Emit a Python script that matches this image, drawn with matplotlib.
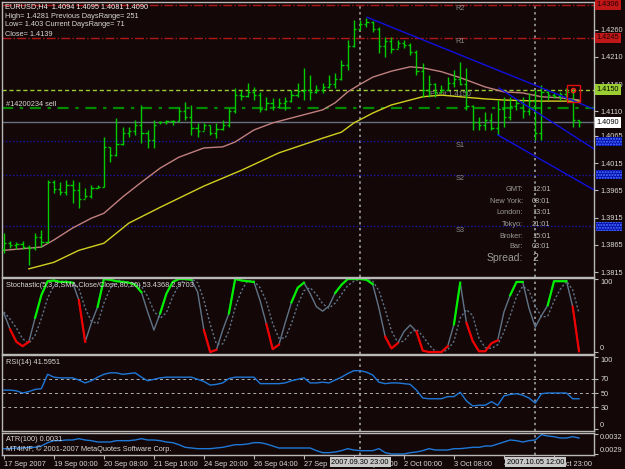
import numpy as np
import matplotlib
matplotlib.use('Agg')
import matplotlib.pyplot as plt
from matplotlib.patches import Rectangle

plt.rcParams['font.family'] = ['Liberation Sans', 'DejaVu Sans']
plt.rcParams['hatch.linewidth'] = 1.0

# ---------------- data (EURUSD H4, one value per bar) ----------------
opens = [1.3858, 1.3868, 1.3864, 1.3866, 1.3862, 1.3860, 1.3880, 1.3870, 1.3980, 1.3968,
         1.3962, 1.3975, 1.3965, 1.3950, 1.3955, 1.3970, 1.3972, 1.4045, 1.4030, 1.4050,
         1.4070, 1.4075, 1.4085, 1.4070, 1.4058, 1.4090, 1.4090, 1.4092, 1.4093, 1.4110,
         1.4100, 1.4080, 1.4075, 1.4085, 1.4070, 1.4078, 1.4085, 1.4110, 1.4140, 1.4138,
         1.4145, 1.4140, 1.4115, 1.4125, 1.4118, 1.4125, 1.4130, 1.4140, 1.4148, 1.4150,
         1.4145, 1.4150, 1.4155, 1.4160, 1.4170, 1.4195, 1.4230, 1.4262, 1.4270, 1.4275,
         1.4262, 1.4230, 1.4240, 1.4225, 1.4236, 1.4232, 1.4220, 1.4185, 1.4150, 1.4160,
         1.4145, 1.4150, 1.4162, 1.4170, 1.4160, 1.4120, 1.4090, 1.4085, 1.4095, 1.4080,
         1.4115, 1.4100, 1.4120, 1.4125, 1.4110, 1.4130, 1.4070, 1.4145, 1.4140, 1.4138,
         1.4142, 1.4145, 1.4094]
highs = [1.3887, 1.3872, 1.3870, 1.3872, 1.3865, 1.3887, 1.3892, 1.3984, 1.3984, 1.3980,
         1.3984, 1.3984, 1.3980, 1.3970, 1.3975, 1.3975, 1.4063, 1.4045, 1.4098, 1.4081,
         1.4081, 1.4094, 1.4122, 1.4076, 1.4094, 1.4093, 1.4094, 1.4094, 1.4118, 1.4127,
         1.4122, 1.4089, 1.4089, 1.4085, 1.4089, 1.4094, 1.4116, 1.4153, 1.4150, 1.4162,
         1.4155, 1.4146, 1.4137, 1.4135, 1.4135, 1.4137, 1.4150, 1.4162, 1.4190, 1.4177,
         1.4159, 1.4162, 1.4177, 1.4181, 1.4205, 1.4241, 1.4278, 1.4278, 1.4281, 1.4277,
         1.4265, 1.4247, 1.4247, 1.4241, 1.4241, 1.4236, 1.4223, 1.4199, 1.4177, 1.4162,
         1.4159, 1.4173, 1.4186, 1.4201, 1.4190, 1.4122, 1.4100, 1.4109, 1.4107, 1.4131,
         1.4137, 1.4137, 1.4131, 1.4137, 1.4144, 1.4150, 1.4159, 1.4147, 1.4144, 1.4146,
         1.4153, 1.4153, 1.4095]
lows = [1.3850, 1.3860, 1.3858, 1.3857, 1.3828, 1.3855, 1.3861, 1.3868, 1.3960, 1.3957,
        1.3957, 1.3942, 1.3933, 1.3951, 1.3951, 1.3969, 1.3971, 1.4017, 1.4028, 1.4048,
        1.4063, 1.4067, 1.4052, 1.4043, 1.4043, 1.4087, 1.4087, 1.4085, 1.4092, 1.4094,
        1.4067, 1.4063, 1.4076, 1.4067, 1.4061, 1.4076, 1.4081, 1.4108, 1.4131, 1.4137,
        1.4131, 1.4109, 1.4113, 1.4113, 1.4116, 1.4113, 1.4128, 1.4137, 1.4131, 1.4131,
        1.4144, 1.4144, 1.4153, 1.4153, 1.4168, 1.4186, 1.4228, 1.4260, 1.4265, 1.4256,
        1.4218, 1.4210, 1.4218, 1.4227, 1.4227, 1.4214, 1.4177, 1.4137, 1.4137, 1.4137,
        1.4144, 1.4150, 1.4155, 1.4159, 1.4113, 1.4076, 1.4076, 1.4076, 1.4076, 1.4067,
        1.4081, 1.4094, 1.4113, 1.4098, 1.4104, 1.4058, 1.4058, 1.4131, 1.4135, 1.4131,
        1.4131, 1.4081, 1.4081]
closes = [1.3868, 1.3864, 1.3866, 1.3862, 1.3860, 1.3880, 1.3870, 1.3980, 1.3968, 1.3962,
          1.3975, 1.3965, 1.3950, 1.3955, 1.3970, 1.3972, 1.4045, 1.4030, 1.4050, 1.4070,
          1.4075, 1.4085, 1.4070, 1.4058, 1.4085, 1.4090, 1.4092, 1.4093, 1.4110, 1.4100,
          1.4080, 1.4075, 1.4085, 1.4070, 1.4078, 1.4085, 1.4110, 1.4140, 1.4138, 1.4145,
          1.4140, 1.4115, 1.4125, 1.4118, 1.4125, 1.4130, 1.4140, 1.4148, 1.4150, 1.4145,
          1.4150, 1.4155, 1.4160, 1.4170, 1.4195, 1.4230, 1.4262, 1.4270, 1.4275, 1.4262,
          1.4230, 1.4240, 1.4225, 1.4236, 1.4232, 1.4220, 1.4185, 1.4150, 1.4160, 1.4145,
          1.4150, 1.4162, 1.4170, 1.4160, 1.4120, 1.4090, 1.4085, 1.4095, 1.4080, 1.4115,
          1.4100, 1.4120, 1.4125, 1.4110, 1.4130, 1.4070, 1.4145, 1.4140, 1.4138, 1.4142,
          1.4145, 1.4094, 1.4090]

# moving averages read at selected bars
ma_pink_bars = [0, 6, 8, 11, 14, 16, 19, 22, 25, 28, 32, 35, 37, 40, 43, 46, 51, 53, 55,
                57, 59, 62, 65, 67, 70, 73, 77, 80, 83, 86, 89, 92]
ma_pink = [1.3855, 1.3861, 1.3874, 1.3896, 1.3914, 1.3923, 1.3953, 1.3980, 1.4006, 1.4026,
           1.4043, 1.4045, 1.4054, 1.4076, 1.4089, 1.4098, 1.4113, 1.4126, 1.4146,
           1.4160, 1.4173, 1.4184, 1.4192, 1.4190, 1.4183, 1.4172, 1.4155, 1.4146, 1.4144,
           1.4137, 1.4135, 1.4131]
ma_yel_bars = [4, 8, 12, 16, 20, 25, 32, 38, 44, 51, 54, 56, 59, 62, 65, 67, 70, 73, 77, 80, 86, 92]
ma_yel = [1.3821, 1.3833, 1.3855, 1.3868, 1.3905, 1.3934, 1.3973, 1.4002, 1.4034, 1.4061,
          1.4072, 1.4089, 1.4107, 1.4122, 1.4131, 1.4137, 1.4140, 1.4137, 1.4133, 1.4131,
          1.4129, 1.4129]

# pivot levels and order line
R2, R1, PIVOT, S1, S2, S3 = 1.4306, 1.4245, 1.4150, 1.4055, 1.3994, 1.3899
sell_level = 1.4116
last_close = 1.4090

# trend lines: (bar0, price0, bar1, price1)
trendlines = [(58.1, 1.4283, 94.7, 1.4113),
              (79.2, 1.4153, 94.7, 1.4039),
              (79.0, 1.4067, 94.7, 1.3964)]

stoch_k = [53, 31, 14, 8, 14, 47, 78, 97, 98, 96,
           96, 95, 71, 14, 40, 62, 100, 99, 97, 96,
           95, 92, 82, 55, 30, 53, 80, 96, 100, 100,
           99, 82, 30, 0, 3, 30, 53, 100, 98, 97,
           96, 70, 38, 4, 10, 40, 68, 88, 95, 80,
           62, 56, 63, 81, 92, 100, 100, 100, 99, 93,
           60, 21, 5, 12, 28, 37, 28, 2, 0, 0,
           0, 8, 38, 95, 40, 15, 1, 1, 12, 16,
           55, 78, 96, 96, 60, 34, 50, 64, 97, 97,
           97, 62, 1]
stoch_d = [55, 45, 33, 18, 12, 23, 46, 74, 91, 97,
           97, 96, 87, 60, 42, 39, 67, 87, 99, 97,
           96, 94, 90, 76, 56, 46, 54, 76, 92, 99,
           100, 95, 71, 38, 11, 11, 29, 61, 84, 98,
           97, 88, 69, 39, 19, 19, 39, 65, 84, 88,
           79, 66, 60, 67, 79, 91, 97, 100, 100, 97,
           84, 58, 29, 13, 15, 26, 31, 22, 10, 1,
           0, 3, 15, 47, 58, 50, 19, 6, 5, 10,
           28, 50, 76, 90, 84, 63, 48, 49, 70, 86,
           97, 85, 53]
stoch_up = [(5, 11), (15, 22), (25, 30), (36, 40), (46, 48), (53, 59), (72, 73), (81, 83), (87, 90)]
stoch_dn = [(1, 4), (12, 13), (32, 34), (42, 44), (61, 63), (66, 71), (74, 79), (91, 92)]

rsi = [54, 54, 53, 50, 52, 55, 56, 76, 72, 71,
       71, 71, 68, 64, 67, 72, 76, 78, 78, 76,
       77, 78, 72, 67, 69, 71, 72, 72, 72, 72,
       72, 69, 66, 61, 62, 64, 70, 72, 72, 72,
       72, 63, 63, 63, 63, 64, 67, 69, 71, 64,
       64, 65, 64, 68, 72, 77, 81, 81, 79, 75,
       65, 63, 64, 64, 63, 62, 54, 43, 42, 42,
       42, 45, 45, 51, 39, 32, 33, 33, 38, 33,
       46, 48, 49, 47, 43, 36, 49, 50, 50, 50,
       50, 42, 42]

atr = [0.00298, 0.00298, 0.00299, 0.00299, 0.00300, 0.00300, 0.00302, 0.00307, 0.00310, 0.00310,
       0.00311, 0.00311, 0.00313, 0.00311, 0.00310, 0.00308, 0.00308, 0.00308, 0.00310, 0.00310,
       0.00310, 0.00311, 0.00313, 0.00311, 0.00311, 0.00310, 0.00308, 0.00307, 0.00304, 0.00300,
       0.00299, 0.00298, 0.00298, 0.00298, 0.00299, 0.00300, 0.00302, 0.00304, 0.00304, 0.00305,
       0.00307, 0.00307, 0.00305, 0.00302, 0.00299, 0.00299, 0.00299, 0.00299, 0.00299, 0.00299,
       0.00295, 0.00292, 0.00292, 0.00293, 0.00295, 0.00298, 0.00296, 0.00295, 0.00295, 0.00295,
       0.00298, 0.00292, 0.00290, 0.00290, 0.00290, 0.00292, 0.00293, 0.00295, 0.00298, 0.00296,
       0.00296, 0.00296, 0.00298, 0.00298, 0.00299, 0.00300, 0.00300, 0.00302, 0.00302, 0.00305,
       0.00308, 0.00311, 0.00310, 0.00308, 0.00310, 0.00311, 0.00319, 0.00317, 0.00316, 0.00314,
       0.00314, 0.00316, 0.00314]

time_ticks = [0, 8, 16, 24, 32, 40, 48, 56, 64, 72, 80, 88]
time_labels = ['17 Sep 2007', '19 Sep 00:00', '20 Sep 08:00', '21 Sep 16:00', '24 Sep 20:00',
               '26 Sep 04:00', '27 Sep 12:00', '28 Sep 20:00', '2 Oct 00:00', '3 Oct 08:00',
               '4 Oct 16:00', '7 Oct 23:00']
marked_bars = [57, 85]
marked_labels = ['2007.09.30 23:00', '2007.10.05 12:00']
price_ticks = [1.4260, 1.4210, 1.4160, 1.4110, 1.4065, 1.4015, 1.3965, 1.3915, 1.3865, 1.3815]

clock_names = ['GMT:', 'New York:', 'London:', 'Tokyo:', 'Broker:', 'Bar:']
clock_times = ['12:01', '08:01', '13:01', '21:01', '15:01', '03:01']

# ---------------- style ----------------
BG = '#140707'
FRAME = '#b8b8b8'
TXT = '#d8d8d8'
FS = 5.3

W, H = 625, 469
fig = plt.figure(figsize=(W / 100, H / 100), dpi=100, facecolor=BG)


def px_box(x0, y0, x1, y1):
    return [x0 / W, 1 - y1 / H, (x1 - x0) / W, (y1 - y0) / H]


ax = fig.add_axes(px_box(2, 2, 594, 277))
ax_st = fig.add_axes(px_box(2, 278, 594, 354))
ax_rsi = fig.add_axes(px_box(2, 355, 594, 431))
ax_atr = fig.add_axes(px_box(2, 433, 594, 455))
axes = [ax, ax_st, ax_rsi, ax_atr]

bars = np.arange(len(closes))
for a in axes:
    a.set_facecolor(BG)
    for s in a.spines.values():
        s.set_color(FRAME)
        s.set_linewidth(1)
    a.set_xlim(-0.3, 94.4)
    a.yaxis.tick_right()
    a.tick_params(axis='y', colors=FRAME, labelcolor=TXT, labelsize=FS, length=3, pad=1.5)
    a.tick_params(axis='x', bottom=False, labelbottom=False)
    for b in marked_bars:
        a.axvline(b, color='#8a8a8a', ls=(0, (1.2, 1.8)), lw=1.4, zorder=1)

# ---- main price panel ----
ax.set_ylim(1.3806, 1.4311)
ax.set_yticks(price_ticks)
ax.set_yticklabels([f'{p:.4f}' for p in price_ticks])

ax.axhline(R2, color='#b01818', ls='-.', lw=1, zorder=1)
ax.axhline(R1, color='#b01818', ls='-.', lw=1, zorder=1)
ax.axhline(PIVOT, color='#9acd32', ls=(0, (3, 2)), lw=1, zorder=1)
ax.axhline(sell_level, color='#008a00', ls=(0, (5, 3, 1.5, 3)), lw=1.6, zorder=1)
ax.axhline(last_close, color='#667080', ls='-', lw=1, zorder=1)
for s in (S1, S2, S3):
    ax.axhline(s, color='#1818a8', ls=(0, (1, 1.5)), lw=1, zorder=1)

ax.plot(ma_pink_bars, ma_pink, color='#c08080', lw=1, zorder=3)
ax.plot(ma_yel_bars, ma_yel, color='#d0d020', lw=1, zorder=3)

bar_col = '#00cc00'
ax.vlines(bars, lows, highs, color=bar_col, lw=1, zorder=4)
ax.hlines(opens, bars - 0.35, bars, color=bar_col, lw=1, zorder=4)
ax.hlines(closes, bars, bars + 0.35, color=bar_col, lw=1, zorder=4)

for b0, p0, b1, p1 in trendlines:
    ax.plot([b0, b1], [p0, p1], color='#1010e0', lw=1, zorder=5, clip_on=True)

ax.add_patch(Rectangle((90.1, 1.4127), 2.1, 0.0032, fill=False, ec='#e01010', lw=1, zorder=6))
ax.plot([91.0], [1.4149], marker='o', ms=3, mfc='none', mec='#ff2020', zorder=6)

# level names
for name, lv in (('R2', R2), ('R1', R1), ('S1', S1), ('S2', S2), ('S3', S3)):
    ax.text(72.2, lv - 0.0007, name, color='#8a8a8a', fontsize=FS, ha='left', va='center', zorder=2)
ax.text(68.2, PIVOT - 0.0008, 'Pivot 1.4150', color='#8a8a8a', fontsize=FS, ha='left', va='center', zorder=2)

# price boxes on the right axis
ytr = ax.get_yaxis_transform()
for val, fc, tc in ((R2, '#c01818', '#200000'), (R1, '#c01818', '#200000'),
                    (PIVOT, '#9acd32', '#000000'), (last_close, '#ffffff', '#000000')):
    ax.text(1.004, val, f'{val:.4f}', transform=ytr, fontsize=FS, color=tc, ha='left', va='center',
            zorder=7, clip_on=False, bbox=dict(fc=fc, ec='none', pad=1.2))
for val in (S1, S2, S3):
    ax.add_patch(Rectangle((1.004, val - 0.0008), 0.044, 0.0016, transform=ytr, clip_on=False,
                           fc='#0010b0', ec='#5a78ff', hatch='......', lw=0, zorder=7))


# header info
def ftext(x, y, s, **kw):
    kw.setdefault('color', TXT)
    kw.setdefault('fontsize', FS)
    fig.text(x / W, 1 - y / H, s, va='center', **kw)


ftext(5, 7, 'EURUSD,H4  1.4094 1.4095 1.4081 1.4090', color='#f0f0f0')
ftext(5, 16, 'High= 1.4281 Previous DaysRange= 251')
ftext(5, 25, 'Low= 1.403 Current DaysRange= 71')
ftext(5, 34, 'Close= 1.4139')
ftext(6, 104, '#14200234 sell')

clock_y = [189, 201, 212, 224, 236, 247]
for nm, tm, yy in zip(clock_names, clock_times, clock_y):
    ftext(523, yy, nm, ha='right', color='#9a9a9a')
    ftext(532, yy, tm, ha='left', color='#b8b8b8')
ftext(523, 258, 'Spread:', ha='right', color='#9a9a9a', fontsize=7.5)
ftext(532, 258, '2', ha='left', color='#b8b8b8', fontsize=7.5)

# ---- stochastic ----
ax_st.set_ylim(-2.7, 101.4)
ax_st.set_yticks([0, 100])
ax_st.set_yticklabels(['0', '100'])
ax_st.plot(bars, stoch_d, color='#607488', lw=1, ls=(0, (1.5, 1.5)))
ax_st.plot(bars, stoch_k, color='#607488', lw=1)
for a0, a1 in stoch_up:
    ax_st.plot(bars[a0:a1 + 1], stoch_k[a0:a1 + 1], color='#00ee00', lw=1.6)
for a0, a1 in stoch_dn:
    ax_st.plot(bars[a0:a1 + 1], stoch_k[a0:a1 + 1], color='#ee0000', lw=1.6)
ax_st.text(0.006, 0.9, 'Stochastic(5,3,3,SMA,Close/Close,80,20) 53.4368 2.9703',
           transform=ax_st.transAxes, color=TXT, fontsize=FS, va='center')

# ---- RSI ----
ax_rsi.set_ylim(-2.8, 102.8)
ax_rsi.set_yticks([0, 30, 50, 70, 100])
ax_rsi.set_yticklabels(['0', '30', '50', '70', '100'])
for lv in (30, 50, 70):
    ax_rsi.axhline(lv, color='#b0b0b0', ls=(0, (3, 3)), lw=0.7)
ax_rsi.plot(bars, rsi, color='#1e78d8', lw=1)
ax_rsi.text(0.006, 0.9, 'RSI(14) 41.5951', transform=ax_rsi.transAxes, color=TXT, fontsize=FS, va='center')

# ---- ATR ----
ax_atr.set_ylim(0.002885, 0.003215)
ax_atr.set_yticks([0.0029, 0.0032])
ax_atr.set_yticklabels(['0.0029', '0.0032'])
ax_atr.plot(bars, atr, color='#1e78d8', lw=1)
ax_atr.text(0.006, 0.7, 'ATR(100) 0.0031', transform=ax_atr.transAxes, color=TXT, fontsize=FS, va='center')
ax_atr.text(0.006, 0.27, 'MT4INF, \u00a9 2001-2007 MetaQuotes Software Corp.', transform=ax_atr.transAxes,
            color=TXT, fontsize=FS, va='center')

for a in (ax_st, ax_rsi, ax_atr):
    labs = a.get_yticklabels()
    labs[0].set_va('bottom')
    labs[-1].set_va('top')

ax_atr.set_xticks(time_ticks)
ax_atr.set_xticklabels(time_labels, ha='left')
ax_atr.tick_params(axis='x', bottom=True, labelbottom=True, colors=FRAME, labelcolor=TXT,
                   labelsize=FS, length=3, pad=1.5)
xtr = ax_atr.get_xaxis_transform()
for b, lab in zip(marked_bars, marked_labels):
    ax_atr.text(b, -0.32, lab, transform=xtr, ha='center', va='center', fontsize=FS, color='#000000',
                zorder=8, clip_on=False, bbox=dict(fc='#c8c8c8', ec='none', pad=1.2))

fig.savefig('out.png', dpi=100, facecolor=BG)
